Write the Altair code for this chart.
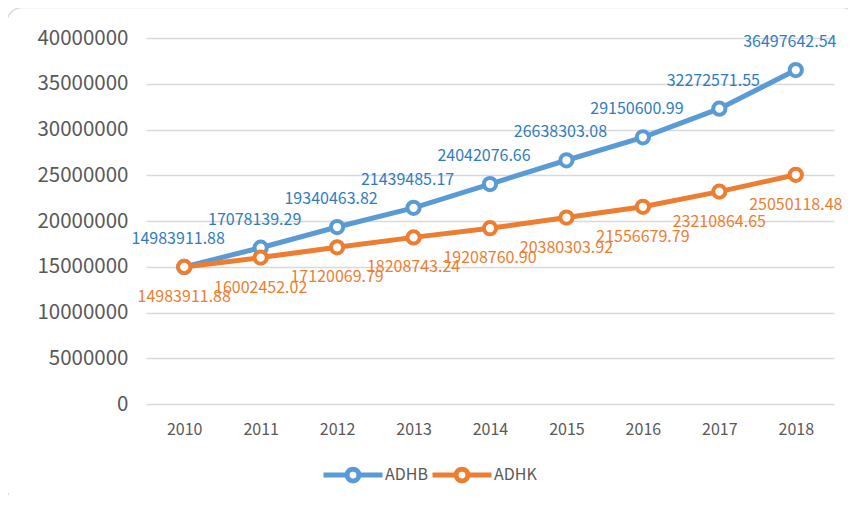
import altair as alt
import pandas as pd

years = ["2010", "2011", "2012", "2013", "2014", "2015", "2016", "2017", "2018"]
adhb = [14983911.88, 17078139.29, 19340463.82, 21439485.17, 24042076.66,
        26638303.08, 29150600.99, 32272571.55, 36497642.54]
adhk = [14983911.88, 16002452.02, 17120069.79, 18208743.24, 19208760.90,
        20380303.92, 21556679.79, 23210864.65, 25050118.48]
series = ["ADHB", "ADHK"]
colors = ["#5B9BD5", "#ED7D31"]
y_ticks = [0, 5000000, 10000000, 15000000, 20000000, 25000000, 30000000, 35000000, 40000000]

rows = []
for i, y in enumerate(years):
    rows.append({"year": y, "series": "ADHB", "value": adhb[i], "order": 0})
for i, y in enumerate(years):
    rows.append({"year": y, "series": "ADHK", "value": adhk[i], "order": 1})
df = pd.DataFrame(rows)

FONT = "Noto Sans CJK SC"
W, H = 688, 366

legend_path = ("M-1,0L-0.2,0M0.2,0L1,0"
               "M-0.2,0A0.2,0.2,0,1,1,0.2,0A0.2,0.2,0,1,1,-0.2,0Z")

x_enc = alt.X("year:N", sort=years, title=None,
              scale=alt.Scale(paddingInner=0, paddingOuter=0.5),
              axis=alt.Axis(labelAngle=0, labelFontSize=16, labelColor="#595959",
                            labelFont=FONT, ticks=False, domain=False, grid=False,
                            labelPadding=17))
y_enc = alt.Y("value:Q", title=None,
              scale=alt.Scale(domain=[0, 40000000], nice=False),
              axis=alt.Axis(values=y_ticks, format="d", labelFontSize=20.5,
                            labelColor="#595959", labelFont=FONT, ticks=False,
                            domain=False, gridColor="#D9D9D9", gridWidth=1.5,
                            labelPadding=18))
color_enc = alt.Color("series:N", sort=series,
                      scale=alt.Scale(domain=series, range=colors),
                      legend=alt.Legend(title=None, orient="none", direction="horizontal",
                                        legendX=175, legendY=405,
                                        symbolType=legend_path, symbolSize=3481,
                                        symbolStrokeWidth=5, symbolFillColor="white",
                                        labelFontSize=16, labelFont=FONT,
                                        labelColor="#595959", labelOffset=0,
                                        columnPadding=-6))

base = alt.Chart(df)

border = alt.Chart(pd.DataFrame({"k": [0]})).mark_rect(
    fill="transparent", stroke="#D9D9D9", strokeWidth=1.5, cornerRadius=16
).encode(x=alt.value(-139.5), x2=alt.value(712), y=alt.value(-30.5), y2=alt.value(465))

lines = base.mark_line(strokeWidth=5).encode(
    x=x_enc, y=y_enc, color=color_enc, order="order:Q")

points = base.mark_point(filled=True, fill="white", size=150, strokeWidth=4, opacity=1).encode(
    x=x_enc, y=y_enc,
    stroke=alt.Stroke("series:N", scale=alt.Scale(domain=series, range=colors), legend=None))

labels_b = base.transform_filter(alt.datum.series == "ADHB").mark_text(
    fontSize=16, font=FONT, color="#2F7DC0", dy=-28, dx=-6
).encode(x=x_enc, y=y_enc, text=alt.Text("value:Q", format=".2f"))

labels_k = base.transform_filter(alt.datum.series == "ADHK").mark_text(
    fontSize=16, font=FONT, color="#ED7D31", dy=30
).encode(x=x_enc, y=y_enc, text=alt.Text("value:Q", format=".2f"))

chart = alt.layer(border, lines, points, labels_b, labels_k).properties(
    width=W, height=H,
    autosize=alt.AutoSizeParams(type="none"),
    padding={"left": 138, "top": 30, "right": 14, "bottom": 91},
    background="white"
).configure_view(stroke=None)

chart.save("out.html", embed_options={"renderer": "svg", "actions": False})
